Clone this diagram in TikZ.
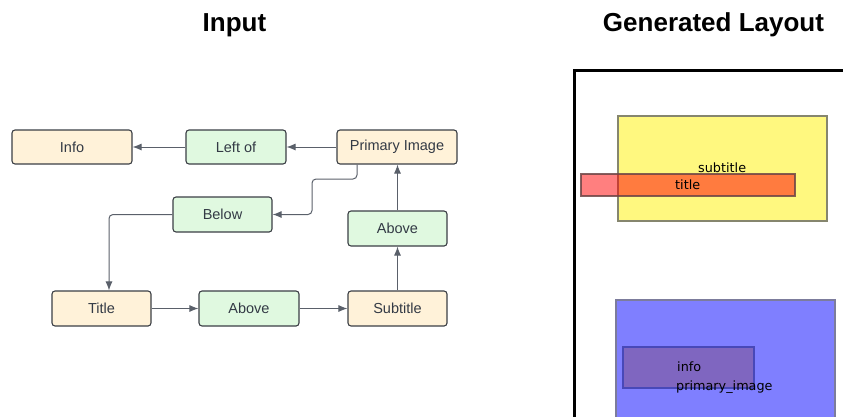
\documentclass[tikz,border=0pt]{standalone}
\usepackage{fontspec}
\setmainfont{Liberation Sans}
\newfontfamily\djv{DejaVu Sans}
\usetikzlibrary{arrows.meta}
\definecolor{cream}{HTML}{FFF2D9}
\definecolor{mint}{HTML}{E0F9E0}
\definecolor{edgec}{HTML}{3B3F45}
\definecolor{txtc}{HTML}{333A45}
\definecolor{linec}{HTML}{5A606A}
\definecolor{infofill}{HTML}{7F66C0}
\definecolor{infoedge}{HTML}{4848B8}
\definecolor{yedge}{HTML}{86866E}
\definecolor{redge}{HTML}{6E4646}
\definecolor{bedge}{HTML}{7C7C9C}
\tikzset{
  box/.style={draw=edgec, line width=1.1pt, rounded corners=3pt, text=txtc,
    font=\fontsize{14.5}{16}\selectfont, inner sep=0pt},
  attr/.style={box, fill=cream},
  rel/.style={box, fill=mint},
  conn/.style={draw=linec, line width=1pt, rounded corners=4pt,
    -{Latex[length=9pt,width=7pt]}},
  ttl/.style={font=\bfseries\fontsize{26}{28}\selectfont, anchor=base},
  lab/.style={font=\djv\fontsize{12.8}{14}\selectfont, anchor=base west, inner sep=0pt},
  lbox/.style={line width=1.6pt}
}
\begin{document}
\begin{tikzpicture}[x=1pt,y=-1pt]
\useasboundingbox (0,0) rectangle (843,416);
% titles
\node[ttl] (tin) at (234.5,31) {Input};
\node[ttl] (tgen) at (713.5,31) {Generated Layout};
% nodes
\node[attr, minimum width=120pt, minimum height=34pt] (info) at (72,147) {Info};
\node[rel, minimum width=100pt, minimum height=34pt] (leftof) at (236,147) {Left of};
\node[attr, minimum width=120pt, minimum height=34pt] (prim) at (397,147) {Primary Image};
\node[rel, minimum width=99pt, minimum height=35pt] (below) at (222.5,214.5) {Below};
\node[rel, minimum width=99pt, minimum height=35pt] (aboveR) at (397.5,228.5) {Above};
\node[attr, minimum width=99pt, minimum height=35pt] (title) at (101.5,308.5) {Title};
\node[rel, minimum width=100pt, minimum height=35pt] (aboveM) at (249,308.5) {Above};
\node[attr, minimum width=99pt, minimum height=35pt] (subt) at (397.5,308.5) {Subtitle};
% connectors
\draw[conn] (prim.west) -- (leftof.east);
\draw[conn] (leftof.west) -- (info.east);
\draw[conn] (prim.south -| 357,0) -- (357,179) -- (312,179) -- (312,214.5) -- (below.east);
\draw[conn] (below.west) -- (109,214.5) -- (title.north -| 109,0);
\draw[conn] (title.east) -- (aboveM.west);
\draw[conn] (aboveM.east) -- (subt.west);
\draw[conn] (subt.north) -- (aboveR.south);
\draw[conn] (aboveR.north) -- (prim.south -| aboveR.north);
% generated layout panel
\begin{scope}
\clip (0,0) rectangle (843,416);
\draw[line width=3pt] (574,440) -- (574,70) -- (870,70);
\fill[yellow, opacity=0.5] (618,116) rectangle (827,221);
\draw[lbox, draw=yedge] (618,116) rectangle (827,221);
\fill[red, opacity=0.5] (581,174) rectangle (795,196);
\draw[lbox, draw=redge, draw opacity=0.85] (581,174) rectangle (795,196);
\fill[blue, opacity=0.5] (616,300) rectangle (835,430);
\draw[lbox, draw=bedge] (616,300) rectangle (835,430);
\fill[infofill] (623,347) rectangle (754,388);
\draw[lbox, draw=infoedge] (623,347) rectangle (754,388);
\end{scope}
\node[lab] (lsub) at (698,172) {subtitle};
\node[lab] (ltit) at (675,189) {title};
\node[lab] (linfo) at (677,371) {info};
\node[lab] (lprim) at (676,390) {primary\_image};
\end{tikzpicture}
\end{document}
